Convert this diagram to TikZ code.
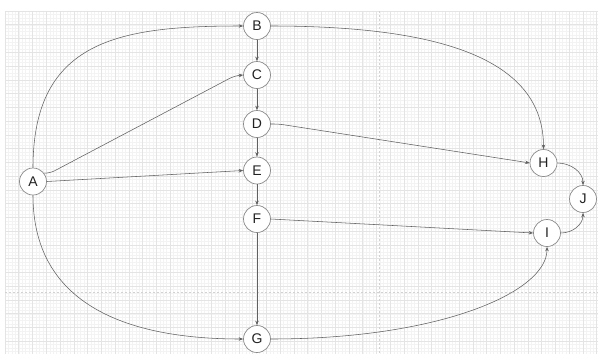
\documentclass[tikz,border=0pt]{standalone}
\usepackage{fontspec}
\setmainfont{Liberation Sans}
\usetikzlibrary{arrows.meta,calc}
\definecolor{gminor}{HTML}{F3F3F3}
\definecolor{gmajor}{HTML}{E4E4E4}
\definecolor{edgec}{HTML}{606060}
\definecolor{ringc}{HTML}{8A8A8A}
\definecolor{txtc}{HTML}{222222}
\tikzset{
  vert/.style={circle, draw=ringc, line width=0.7pt, fill=white, minimum size=27pt, inner sep=0pt,
    text=txtc, font=\fontsize{14}{14}\selectfont},
  edge/.style={draw=edgec, line width=0.55pt, -{Stealth[length=4.5pt,width=3.5pt]}},
  minorline/.style={gminor, line width=0.4pt},
  majorline/.style={gmajor, line width=0.55pt},
  pagebreak/.style={gray!35, line width=0.55pt, dash pattern=on 2pt off 2pt}
}
\begin{document}
\begin{tikzpicture}[x=1pt,y=-1pt]
\useasboundingbox (0,0) rectangle (598,354);
\fill[white] (0,0) rectangle (598,354);
% grid
\foreach \i in {0,...,172} \draw[minorline] ({5+\i*3.44},11) -- ({5+\i*3.44},354);
\foreach \i in {0,...,99} \draw[minorline] (5,{11+\i*3.44}) -- (598,{11+\i*3.44});
\foreach \i in {0,...,43} \draw[majorline] ({5+\i*13.76},11) -- ({5+\i*13.76},354);
\foreach \i in {0,...,24} \draw[majorline] (5,{11+\i*13.76}) -- (598,{11+\i*13.76});
\draw[pagebreak] (5,292) -- (598,292);
\draw[pagebreak] (379,11) -- (379,354);
% nodes
\node[vert] (A) at (33,181.5) {A};
\node[vert] (B) at (257,26) {B};
\node[vert] (C) at (257,75) {C};
\node[vert] (D) at (257,124) {D};
\node[vert] (E) at (257,170.5) {E};
\node[vert] (F) at (257,219) {F};
\node[vert] (G) at (257,339) {G};
\node[vert] (H) at (543.5,163) {H};
\node[vert] (I) at (547,233) {I};
\node[vert] (J) at (583,199) {J};
% edges
\draw[edge] (A.north) .. controls +(0,-128) and +(-123,0) .. (B.west);
\draw[edge] (A.south) .. controls +(0,105) and +(-123,0) .. (G.west);
\draw[edge, rounded corners=5pt] (A.37) -- ++(6,0) -- ($(C.west)+(-9,1)$) -- (C.west);
\draw[edge] (A.east) -- (E.west);
\draw[edge] (B) -- (C);
\draw[edge] (C) -- (D);
\draw[edge] (D) -- (E);
\draw[edge] (E) -- (F);
\draw[edge] (F) -- (G);
\draw[edge] (B.east) .. controls +(170,0) and +(0,-90) .. (H.north);
\draw[edge, rounded corners=5pt] (D.east) -- ++(8,0) -- ($(H.west)+(-6,-1)$) -- (H.west);
\draw[edge] (F.east) -- (I.west);
\draw[edge] (G.east) .. controls +(170,0) and +(0,45) .. (I.south);
\draw[edge] (H.east) to[out=0,in=90] (J.north);
\draw[edge] (I.east) to[out=0,in=-90] (J.south);
\end{tikzpicture}
\end{document}
